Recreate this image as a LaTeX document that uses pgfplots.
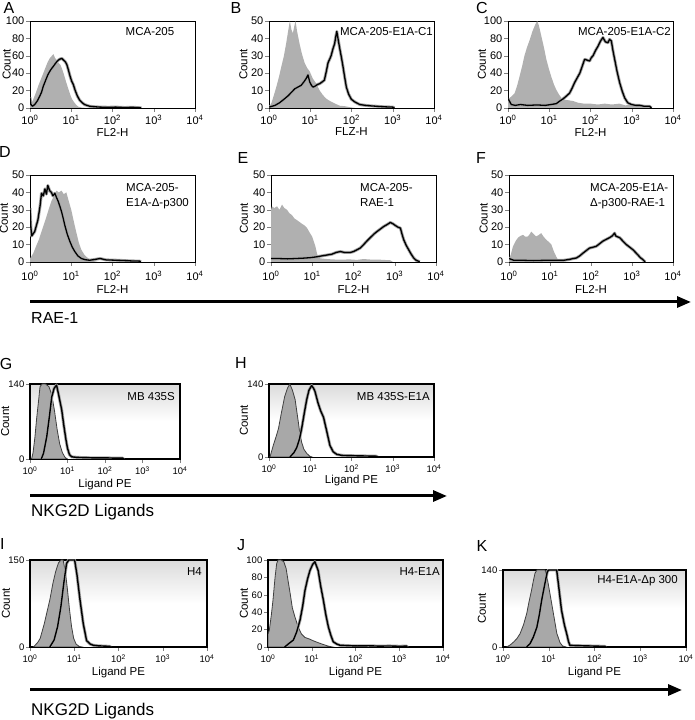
\documentclass[border=0pt]{standalone}
\usepackage{fontspec}
\setmainfont{Liberation Sans}
\usepackage{pgfplots}
\usepackage{pgfplotstable}
\pgfplotsset{compat=1.18}
\usetikzlibrary{arrows.meta}

% flow histograms: gray = control, black line = sample
\pgfplotstableread{
x y
1 8
1.1 6
1.2 10
1.4 18
1.6 26
1.8 32
2.1 40
2.4 47
2.7 53
3.0 57
3.4 60
3.7 62
4.0 58
4.4 55
4.9 52
5.4 50
6.0 45
6.7 38
7.5 30
8.5 22
9.5 15
10.5 10
12 6
13.5 3
15 1.5
18 0.5
25 0
}\ctlA
\pgfplotstableread{
x y
1 12
1.05 4
1.15 2
1.3 4
1.5 8
1.7 13
1.9 18
2.1 25
2.4 32
2.7 38
3.0 42
3.3 45
3.7 48
4.1 51
4.6 54
5.2 56
5.9 57
6.5 55
7.2 53
7.8 50
8.5 44
9.3 37
10.2 31
11.2 27
12.5 20
14 14
16 9
18.5 6
21 4
24 3
28 2
35 1.5
50 1
80 0.8
120 1
200 0.5
300 0.8
465 0.3
500 0
}\smpA
\pgfplotstableread{
x y
1 0.5
1.15 3
1.3 7
1.5 12
1.75 18
2.0 24
2.3 30
2.6 37
2.9 44
3.2 50
3.5 45
3.8 43
4.1 47
4.4 50
4.8 44
5.5 37
6.3 31
7.3 26
8.4 23
9.7 21
11.5 17
14 14
17 10
20 7.6
24 5.5
30 4
40 2.5
52 1.3
70 1
90 0.5
120 0
}\ctlB
\pgfplotstableread{
x y
1 0.5
1.4 1.5
1.8 3
2.3 5
2.9 7
3.5 9
4.2 11
5 12
6 13
7 15
8 17
8.8 19
9.7 15
10.7 13
11.7 12
13 12.5
15 13.5
17 14
19.5 15
22 16
24.5 21
27 26
29.5 28
32 30
35.5 34
39 37
41.5 41
44 44
47 40
52 34
57 29
62 24
68 18
75 12
85 8
99 5
120 3.5
158 2
220 1.5
300 1.2
400 1
600 0.7
1000 0.5
1100 0
}\smpB
\pgfplotstableread{
x y
1 8
1.1 11.5
1.25 14
1.45 17
1.65 25
1.9 36
2.2 48
2.5 60
2.9 70
3.4 79
3.9 88
4.4 94
4.8 98
5.1 100
5.6 95
6.4 83
7.4 70
8.5 56
9.8 45
11.2 36
13 27
14.8 21
17.5 15
21 10
28 9
38 8
50 6
70 5
100 5
150 4
220 5
330 4
500 5
700 3
1000 4
1560 3
2300 1
2500 0
}\ctlC
\pgfplotstableread{
x y
1 11
1.2 4
1.5 3
2 4
3 3
5 3.5
8 3
11 4
14.8 5
18 8
21 10
25 13
31 17
36 23
41 29
48 35
55 40
63 48
72 56
83 55
95 54
105 58
115 60
132 66
152 71
175 77
200 81
230 76
265 75
290 79
320 77
350 66
385 56
440 42
510 29
590 19
675 11.5
800 6
980 4
1250 3
1550 3
2000 2
2700 2
3000 0
}\smpC
\pgfplotstableread{
x y
1 2
1.2 5
1.4 9
1.65 13
1.9 17.5
2.2 22
2.5 26
2.9 31
3.3 35
3.8 38
4.4 41
5.0 40
5.8 41
6.6 39
7.6 40
8.7 35
10 30
11.6 23
13.4 16.6
15.3 11
17.6 7
21 4
26 2
35 0.5
45 0
}\ctlD
\pgfplotstableread{
x y
1 31
1.05 20
1.1 15
1.3 17.5
1.55 24
1.75 32
1.9 39.5
2.1 38
2.3 42
2.5 39
2.7 44
3.0 41
3.3 40
3.6 38
4.0 39.5
4.4 37
4.8 35
5.3 32
5.8 29
6.4 25
7 21
8 16
9.2 12
10.6 8.5
12.2 6
14.5 3.5
17.6 2
22 1.3
28 1
38 1.5
50 2
70 1.2
125 1
200 0.8
300 0.6
460 0.5
480 0
}\smpD
\pgfplotstableread{
x y
1 30
1.05 32
1.2 31
1.4 32
1.6 30
1.85 33
2.1 31
2.45 30
2.8 28
3.2 27
3.7 25
4.3 24
4.9 23
5.6 22
6.5 21
7.5 19.5
8.6 17
9.9 14.7
10.8 12
11.9 9
13 5
14.3 2.3
17 2
22.7 1.7
30 1.5
48 1.3
80 1.5
120 1.2
176 1.7
260 1.4
450 1.3
780 1
900 0
}\ctlE
\pgfplotstableread{
x y
1 2
1.5 2
2.5 1.8
4 2
6 2.2
9 2.5
13 3
17 3.5
22.7 4
30 4.5
38 5.5
48 6
60 5.5
84 5.5
100 6
121 7
145 8
176 10
210 12
255 14
310 16
370 17.5
450 19
540 20.4
650 21.5
780 22.7
900 22
1030 21
1200 20
1370 19.5
1500 16
1650 12.8
1900 9.5
2180 7
2500 4.5
2880 2.3
3300 1
3800 0.4
4000 0
}\smpE
\pgfplotstableread{
x y
1 2
1.1 4
1.25 9
1.45 12
1.66 14
1.9 15
2.2 15.6
2.5 14.5
2.9 14.7
3.2 16
3.5 17.5
4.0 16
4.6 14.7
5.3 15.5
6.1 16.6
7.0 14.5
8.1 12.8
9.4 11.5
10.8 10
12 7
13 5
14.3 3
15.6 1.3
18 0
}\ctlF
\pgfplotstableread{
x y
1 2
1.3 1
2 1
4 0.8
8 1
15 1
22 1
30 1.5
37 2
44 2.3
53 3.5
63 5
76 6.5
92 8
112 8.5
134 9
162 10.5
195 12
235 13
284 14
330 15
377 16.6
400 15
440 14.5
500 14
600 12
730 10
880 8.5
1060 7
1220 5.5
1400 4
1600 2.5
1860 1.3
2100 0
}\smpF
\pgfplotstableread{
x y
1.1 0
1.2 11
1.35 40
1.5 75
1.7 110
1.85 135
2.1 140
2.6 140
3.2 135
3.8 120
4.5 90
5.3 55
6.2 28
7.3 12
8.6 3
10 0
}\ctlG
\pgfplotstableread{
x y
2.0 0
2.3 11
2.8 42
3.3 80
3.8 116
4.4 132
5.1 138
5.8 120
7.0 92
8.0 62
9.1 36
10 20
11.3 8
13 4
18 3
30 2.5
60 2
120 2
200 1.5
300 1.5
310 0
}\smpG
\pgfplotstableread{
x y
1.05 0
1.1 5
1.3 25
1.5 40
1.7 55
2.0 85
2.4 116
2.8 132
3.2 140
3.7 128
4.3 110
5.1 69
5.6 45
6.2 28
7.0 15
8.2 7
9.8 1.4
11 0
}\ctlH
\pgfplotstableread{
x y
3.2 0
4.0 8
4.7 18
5.5 35
6.2 55
7.2 85
8.2 110
9.3 128
10.8 137
12 132
13 126
15.5 103
18 88
21 76
25 50
30 22
36 10
44 5
60 3
100 2.5
200 2
400 1.5
430 0
}\smpH
\pgfplotstableread{
x y
1.2 0
1.5 8
1.7 15
2.1 40
2.5 65
2.8 81
3.3 110
3.8 130
4.4 145
5.0 150
5.6 150
6.3 130
7.0 100
7.8 65
8.7 35
9.7 15
11 5
13 1
15 0
}\ctlI
\pgfplotstableread{
x y
2.8 0
3.5 12
4.2 35
5.0 70
5.8 110
6.7 144
7.5 150
9.0 150
10.2 150
11.5 125
13.5 81
16 40
19 11
23 5
27 3
35 2
50 1.5
64 1
66 0
}\smpI
\pgfplotstableread{
x y
1.0 15
1.07 19
1.2 38
1.3 54
1.45 80
1.58 96
1.7 100
2.0 100
2.3 98
2.6 90
2.9 75
3.2 62
3.6 45
4.1 35
4.9 23
5.8 15
7.0 11
9.0 9
11 7
14 5
18 3
24 1
30 0
}\ctlJ
\pgfplotstableread{
x y
2.4 0
3.0 4
3.8 8
4.5 17
5.4 31
6.2 47
7.0 65
8.0 78
9.1 88
10.5 95
11.8 98
14 88
16 70
18.4 54
21 37
24 23
27.5 13
31 6
37 3.5
44 2
70 1.5
110 1.2
200 1.4
350 1
600 1.2
1000 0.8
1480 1
1520 0
}\smpJ
\pgfplotstableread{
x y
1.2 0
1.45 4
1.7 9
2.0 15
2.35 24
2.8 40
3.3 61
3.7 82
4.2 103
4.6 120
5.0 134
5.5 140
8.3 140
9.5 120
11 90
13 55
15 25
17.6 8
20 2
24 0
}\ctlK
\pgfplotstableread{
x y
3.3 0
3.9 6
4.6 18
5.5 36
6.2 58
7.0 85
8.0 110
9.3 137
10 140
14.9 140
16.5 110
19 67
22 40
24.7 24
27 10
29 3
40 2.5
70 2
120 1.5
170 1
175 0
}\smpK

\pgfplotsset{
  every axis/.append style={
    scale only axis,
    xmode=log, xmin=1, xmax=10000, ymin=0,
    xtick={1,10,100,1000,10000},
    xticklabels={10\textsuperscript{0},10\textsuperscript{1},10\textsuperscript{2},10\textsuperscript{3},10\textsuperscript{4}},
    xminorticks=false, yminorticks=false,
    tick align=outside, xtick pos=left, ytick pos=left,
    major tick length=4pt,
    axis line style={line width=0.8pt},
    ylabel={Count},
    tick label style={font=\fontsize{11}{12}\selectfont},
    yticklabel style={inner sep=1.5pt},
    label style={font=\fontsize{11.5}{13}\selectfont},
  },
}
\tikzset{
  ctl/.style={fill=gray!62, draw=none},
  ctl2/.style={fill=gray!68, draw=black!75, line width=0.8pt},
  halo/.style={gray!70, line width=3pt, line join=round},
  core/.style={black, line width=1.3pt, line join=round},
  core2/.style={black, line width=1.4pt, line join=round},
  bgfill/.style={fill=white, draw=none},
}
% white lower half, light gray towards the top (path spans 25bp..75bp)
\pgfdeclareverticalshading{fade}{100bp}{color(0bp)=(white); color(50bp)=(white); color(75bp)=(gray!28); color(100bp)=(gray!28)}

\begin{document}
\begin{tikzpicture}
\useasboundingbox (0pt,0pt) rectangle (694pt,720pt);

% gradient backgrounds of the ligand panels
\shade[shading=fade] (30pt,261pt) rectangle (180pt,336pt);
\shade[shading=fade] (269pt,263pt) rectangle (434pt,336pt);
\shade[shading=fade] (30pt,73pt) rectangle (207pt,160pt);
\shade[shading=fade] (268pt,73pt) rectangle (443pt,160pt);
\shade[shading=fade] (503pt,73pt) rectangle (686pt,150pt);

% ---- row 1 ----
\begin{axis}[at={(30pt,612pt)}, anchor=south west, width=165pt, height=87pt, ymax=100, ytick={0,20,40,60,80,100},
  yticklabels={0,20,40,60,80,100}, xlabel={FL2-H},
  xlabel style={at={(axis description cs:0.5,0)}, anchor=center, yshift=-24pt},
  ylabel style={at={(axis description cs:-0.142,0.5)}, anchor=center}]
\addplot[ctl] table {\ctlA} \closedcycle;
\addplot[halo] table {\smpA};
\addplot[core] table {\smpA};
\end{axis}
\begin{axis}[at={(269pt,612pt)}, anchor=south west, width=165pt, height=87pt, ymax=50, ytick={0,10,20,30,40,50},
  yticklabels={0,10,20,30,40,50}, xlabel={FLZ-H},
  xlabel style={at={(axis description cs:0.5,0)}, anchor=center, yshift=-24pt},
  ylabel style={at={(axis description cs:-0.155,0.5)}, anchor=center}]
\addplot[ctl] table {\ctlB} \closedcycle;
\addplot[halo] table {\smpB};
\addplot[core] table {\smpB};
\end{axis}
\begin{axis}[at={(508pt,612pt)}, anchor=south west, width=165pt, height=87pt, ymax=100, ytick={0,20,40,60,80,100},
  yticklabels={0,20,40,60,80,100}, xlabel={FL2-H},
  xlabel style={at={(axis description cs:0.5,0)}, anchor=center, yshift=-24pt},
  ylabel style={at={(axis description cs:-0.158,0.5)}, anchor=center}]
\addplot[ctl] table {\ctlC} \closedcycle;
\addplot[halo] table {\smpC};
\addplot[core] table {\smpC};
\end{axis}

% ---- row 2 ----
\begin{axis}[at={(30pt,458pt)}, anchor=south west, width=165pt, height=87pt, ymax=50, ytick={0,10,20,30,40,50},
  yticklabels={0,10,20,30,40,50}, xlabel={FL2-H}, xticklabel style={yshift=-2pt},
  xlabel style={at={(axis description cs:0.5,0)}, anchor=center, yshift=-27pt},
  ylabel style={at={(axis description cs:-0.158,0.5)}, anchor=center}]
\addplot[ctl] table {\ctlD} \closedcycle;
\addplot[halo] table {\smpD};
\addplot[core] table {\smpD};
\end{axis}
\begin{axis}[at={(271pt,458pt)}, anchor=south west, width=165pt, height=87pt, ymax=50, ytick={0,10,20,30,40,50},
  yticklabels={0,10,20,30,40,50}, xlabel={FL2-H}, xticklabel style={yshift=-2pt},
  xlabel style={at={(axis description cs:0.5,0)}, anchor=center, yshift=-27pt},
  ylabel style={at={(axis description cs:-0.164,0.5)}, anchor=center}]
\addplot[ctl] table {\ctlE} \closedcycle;
\addplot[halo] table {\smpE};
\addplot[core] table {\smpE};
\end{axis}
\begin{axis}[at={(509pt,458pt)}, anchor=south west, width=164pt, height=87pt, ymax=50, ytick={0,10,20,30,40,50},
  yticklabels={0,10,20,30,40,50}, xlabel={FL2-H}, xticklabel style={yshift=-2pt},
  xlabel style={at={(axis description cs:0.5,0)}, anchor=center, yshift=-27pt},
  ylabel style={at={(axis description cs:-0.155,0.5)}, anchor=center}]
\addplot[ctl] table {\ctlF} \closedcycle;
\addplot[halo] table {\smpF};
\addplot[core] table {\smpF};
\end{axis}

% ---- row 3 ----
\begin{axis}[at={(30pt,261pt)}, anchor=south west, width=150pt, height=75pt, ymax=140, ytick={0,140},
  yticklabels={0,140}, xlabel={Ligand PE}, axis line style={line width=1.1pt},
  tick label style={font=\fontsize{9.5}{11}\selectfont},
  xlabel style={at={(axis description cs:0.5,0)}, anchor=center, yshift=-26pt},
  ylabel style={at={(axis description cs:-0.165,0.5)}, anchor=center}]
\addplot[bgfill] table {\smpG} \closedcycle;
\addplot[ctl2] table {\ctlG} \closedcycle;
\addplot[halo] table {\smpG};
\addplot[core2] table {\smpG};
\end{axis}
\begin{axis}[at={(269pt,263pt)}, anchor=south west, width=165pt, height=73pt, ymax=140, ytick={0,140},
  yticklabels={0,140}, xlabel={Ligand PE}, axis line style={line width=1.1pt},
  tick label style={font=\fontsize{9.5}{11}\selectfont},
  xlabel style={at={(axis description cs:0.5,0)}, anchor=center, yshift=-24pt},
  ylabel style={at={(axis description cs:-0.152,0.5)}, anchor=center}]
\addplot[bgfill] table {\smpH} \closedcycle;
\addplot[ctl2] table {\ctlH} \closedcycle;
\addplot[halo] table {\smpH};
\addplot[core2] table {\smpH};
\end{axis}

% ---- row 4 ----
\begin{axis}[at={(30pt,73pt)}, anchor=south west, width=177pt, height=87pt, ymax=150, ytick={0,150},
  yticklabels={0,150}, xlabel={Ligand PE}, axis line style={line width=1.1pt},
  tick label style={font=\fontsize{9.5}{11}\selectfont},
  xlabel style={at={(axis description cs:0.5,0)}, anchor=center, yshift=-26pt},
  ylabel style={at={(axis description cs:-0.136,0.5)}, anchor=center}]
\addplot[bgfill] table {\smpI} \closedcycle;
\addplot[ctl2] table {\ctlI} \closedcycle;
\addplot[halo] table {\smpI};
\addplot[core2] table {\smpI};
\end{axis}
\begin{axis}[at={(268pt,73pt)}, anchor=south west, width=175pt, height=87pt, ymax=100, ytick={0,20,40,60,80,100},
  yticklabels={0,20,40,60,80,100}, xlabel={Ligand PE}, axis line style={line width=1.1pt},
  tick label style={font=\fontsize{9.5}{11}\selectfont},
  xlabel style={at={(axis description cs:0.5,0)}, anchor=center, yshift=-26pt},
  ylabel style={at={(axis description cs:-0.137,0.5)}, anchor=center}]
\addplot[bgfill] table {\smpJ} \closedcycle;
\addplot[ctl2] table {\ctlJ} \closedcycle;
\addplot[halo] table {\smpJ};
\addplot[core2] table {\smpJ};
\end{axis}
\begin{axis}[at={(503pt,73pt)}, anchor=south west, width=183pt, height=77pt, ymax=140, ytick={0,140},
  yticklabels={0,140}, xlabel={Ligand PE}, axis line style={line width=1.1pt},
  tick label style={font=\fontsize{9.5}{11}\selectfont},
  xlabel style={at={(axis description cs:0.5,0)}, anchor=center, yshift=-26pt},
  ylabel style={at={(axis description cs:-0.115,0.5)}, anchor=center}]
\addplot[bgfill] table {\smpK} \closedcycle;
\addplot[ctl2] table {\ctlK} \closedcycle;
\addplot[halo] table {\smpK};
\addplot[core2] table {\smpK};
\end{axis}

% panel letters
\begin{scope}[every node/.style={font=\fontsize{16}{16}\selectfont, inner sep=0pt}]
\node at (9pt,712pt) {A};
\node at (236pt,712pt) {B};
\node at (482pt,712pt) {C};
\node at (5pt,568pt) {D};
\node at (243pt,562pt) {E};
\node at (481pt,562pt) {F};
\node at (6pt,356pt) {G};
\node at (241pt,357pt) {H};
\node[anchor=west] at (0pt,176pt) {I};
\node at (241pt,175pt) {J};
\node at (482pt,174pt) {K};
\end{scope}

% sample names
\begin{scope}[every node/.style={font=\fontsize{11.5}{15}\selectfont, inner sep=0pt}]
\node at (150pt,688pt) {MCA-205};
\node[anchor=east] at (433pt,688pt) {MCA-205-E1A-C1};
\node[anchor=east] at (671pt,688pt) {MCA-205-E1A-C2};
\node[anchor=north west, align=left] at (126pt,537pt) {MCA-205-\\E1A-Δ-p300};
\node[anchor=north west, align=left] at (360pt,537pt) {MCA-205-\\RAE-1};
\node[anchor=north west, align=left] at (590pt,537pt) {MCA-205-E1A-\\Δ-p300-RAE-1};
\end{scope}
\begin{scope}[every node/.style={font=\fontsize{11.5}{13}\selectfont, inner sep=0pt}]
\node[anchor=east] at (175pt,323pt) {MB 435S};
\node[anchor=east] at (430pt,323pt) {MB 435S-E1A};
\node[anchor=east] at (202pt,148pt) {H4};
\node[anchor=east] at (440pt,148pt) {H4-E1A};
\node[anchor=east] at (678pt,139pt) {H4-E1A-Δp 300};
\end{scope}

% arrows
\draw[line width=3pt, -{Triangle[length=14pt,width=11pt]}] (30pt,418pt) -- (691pt,418pt);
\node[anchor=west, inner sep=0pt, font=\fontsize{16}{16}\selectfont] at (31pt,402pt) {RAE-1};
\draw[line width=3pt, -{Triangle[length=14pt,width=11pt]}] (30pt,224pt) -- (447pt,224pt);
\node[anchor=west, inner sep=0pt, font=\fontsize{17}{17}\selectfont] at (31pt,208pt) {NKG2D Ligands};
\draw[line width=3pt, -{Triangle[length=14pt,width=11pt]}] (30pt,30pt) -- (682pt,30pt);
\node[anchor=west, inner sep=0pt, font=\fontsize{17}{17}\selectfont] at (31pt,9pt) {NKG2D Ligands};
\end{tikzpicture}
\end{document}
